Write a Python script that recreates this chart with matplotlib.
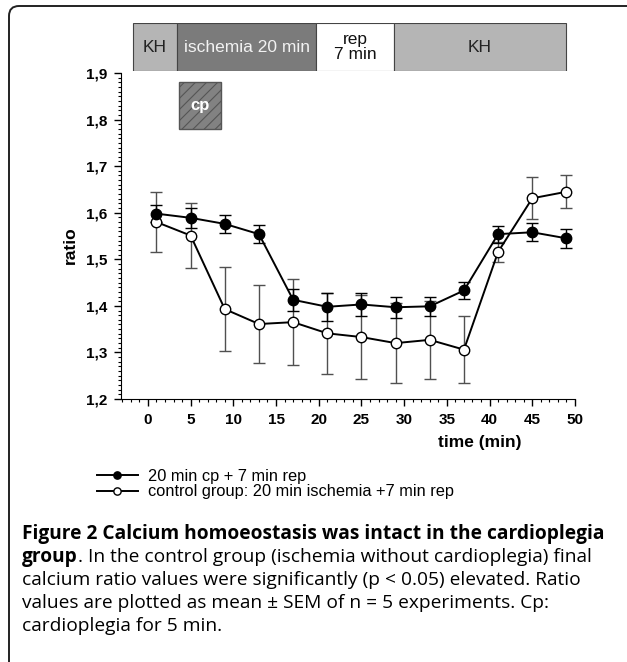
import numpy as np
import matplotlib
matplotlib.use("Agg")
import matplotlib.pyplot as plt
from matplotlib.patches import Rectangle, FancyBboxPatch
from matplotlib.ticker import MultipleLocator, FuncFormatter

# data
times = [1, 5, 9, 13, 17, 21, 25, 29, 33, 37, 41, 45, 49]
cp_mean = [1.598, 1.589, 1.576, 1.554, 1.413, 1.398, 1.403, 1.397, 1.399, 1.433, 1.554, 1.558, 1.545]
cp_sem = [0.018, 0.021, 0.019, 0.019, 0.023, 0.03, 0.024, 0.023, 0.02, 0.019, 0.018, 0.019, 0.02]
ctrl_mean = [1.580, 1.551, 1.393, 1.361, 1.365, 1.341, 1.333, 1.320, 1.327, 1.306, 1.516, 1.631, 1.645]
ctrl_sem = [0.065, 0.07, 0.091, 0.083, 0.093, 0.087, 0.090, 0.086, 0.084, 0.072, 0.021, 0.045, 0.035]

labels = ["20 min cp + 7 min rep", "control group: 20 min ischemia +7 min rep"]

# protocol bar (schematic)
phase_edges = [-1.8, 3.4, 19.7, 28.8, 48.9]
phase_names = ["KH", "ischemia 20 min", "rep\n7 min", "KH"]
phase_colors = ["#b5b5b5", "#7b7b7b", "#ffffff", "#b5b5b5"]
phase_text = ["#222222", "#f2f2f2", "#111111", "#222222"]
cp_span = [3.6, 8.5]
cp_level = [1.78, 1.881]

caption = [
    ("Figure 2 Calcium homoeostasis was intact in the cardioplegia", ""),
    ("group", ". In the control group (ischemia without cardioplegia) final"),
    ("", "calcium ratio values were significantly (p < 0.05) elevated. Ratio"),
    ("", "values are plotted as mean \u00b1 SEM of n = 5 experiments. Cp:"),
    ("", "cardioplegia for 5 min."),
]

plt.rcParams["font.family"] = ["Liberation Sans", "DejaVu Sans"]
plt.rcParams["hatch.color"] = "#5e5e5e"
plt.rcParams["hatch.linewidth"] = 0.8

W, H = 627, 662
fig = plt.figure(figsize=(W / 100, H / 100), dpi=100)

def fx(px):
    return px / W

def fy(py):
    return 1 - py / H

xlim = (-3.15, 50)
ax = fig.add_axes([fx(121), fy(399), fx(575 - 121), (399 - 73) / H])

ax.errorbar(times, ctrl_mean, yerr=ctrl_sem, fmt="none", ecolor="#505050",
            elinewidth=1, capsize=4.5, capthick=1, zorder=2)
ax.errorbar(times, cp_mean, yerr=cp_sem, fmt="none", ecolor="black",
            elinewidth=1, capsize=4.5, capthick=1, zorder=3)
ax.plot(times, ctrl_mean, "-o", color="black", lw=1.4, ms=7.5,
        mfc="white", mec="black", mew=1, zorder=4, label=labels[1])
ax.plot(times, cp_mean, "-o", color="black", lw=1.4, ms=7.5,
        mfc="black", mec="black", zorder=5, label=labels[0])

# cp box
ax.add_patch(Rectangle((cp_span[0], cp_level[0]), cp_span[1] - cp_span[0],
                       cp_level[1] - cp_level[0], facecolor="#828282",
                       edgecolor="#555555", hatch="///", lw=1, zorder=1))
ax.text(np.mean(cp_span), np.mean(cp_level), "cp", color="white",
        fontsize=12, fontweight="bold", ha="center", va="center", zorder=2)

ax.set_xlim(*xlim)
ax.set_ylim(1.2, 1.9)
ax.spines["top"].set_visible(False)
ax.spines["right"].set_visible(False)
ax.xaxis.set_major_locator(MultipleLocator(5))
ax.xaxis.set_minor_locator(MultipleLocator(1))
ax.yaxis.set_major_locator(MultipleLocator(0.1))
ax.yaxis.set_minor_locator(MultipleLocator(0.01))
ax.yaxis.set_major_formatter(FuncFormatter(lambda v, p: f"{v:.1f}".replace(".", ",")))
ax.tick_params(which="major", direction="out", length=5, width=1, labelsize=11, pad=5)
ax.tick_params(which="minor", direction="out", length=2.5, width=0.8)
for lab in ax.get_xticklabels() + ax.get_yticklabels():
    lab.set_fontweight("bold")
ax.set_xlabel("time (min)", fontsize=12.5, fontweight="bold")
ax.xaxis.set_label_coords((480 - 121) / 454, (399 - 443) / 326)
ax.set_ylabel("ratio", fontsize=12.5, fontweight="bold")
ax.yaxis.set_label_coords((70 - 121) / 454, (399 - 245) / 326)
ax.xaxis.label.set_va("center")
ax.yaxis.label.set_va("center")

# protocol bar on top
bar = fig.add_axes([fx(121), fy(71), fx(454), 48 / H])
bar.set_xlim(*xlim)
bar.set_ylim(0, 1)
bar.axis("off")
for i, name in enumerate(phase_names):
    x0, x1 = phase_edges[i], phase_edges[i + 1]
    bar.add_patch(Rectangle((x0, 0), x1 - x0, 1, facecolor=phase_colors[i],
                            edgecolor="#444444", lw=0.8))
    bar.text((x0 + x1) / 2, 0.5, name, ha="center", va="center",
             fontsize=12.5, color=phase_text[i], linespacing=1.0)

# legend
handles, labs = ax.get_legend_handles_labels()
fig.legend(handles[::-1], labs[::-1], loc="center left",
           bbox_to_anchor=(fx(82), fy(484)), frameon=False, fontsize=11.8,
           handlelength=2.5, handletextpad=0.65, labelspacing=0.05,
           numpoints=1, markerscale=0.7)

# caption
cap_font = ["Open Sans", "DejaVu Sans"]
for i, (bold, rest) in enumerate(caption):
    yb = fy(539 + 23 * i)
    t = fig.text(fx(22), yb, bold, fontsize=13.8, fontweight="bold",
                 family=cap_font, va="baseline", ha="left")
    if rest:
        ax.annotate(rest, xy=(1, yb), xycoords=(t, "figure fraction"),
                    fontsize=13.8, family=cap_font, va="baseline", ha="left",
                    annotation_clip=False)

# frame at top-left
fig.patches.append(FancyBboxPatch((0.09, -1), 10, 6.56 + 1,
                                  boxstyle="round,pad=0,rounding_size=0.1",
                                  transform=fig.dpi_scale_trans, fill=False,
                                  edgecolor="#222222", lw=1.4, figure=fig))

fig.savefig("out.png", dpi=100)
